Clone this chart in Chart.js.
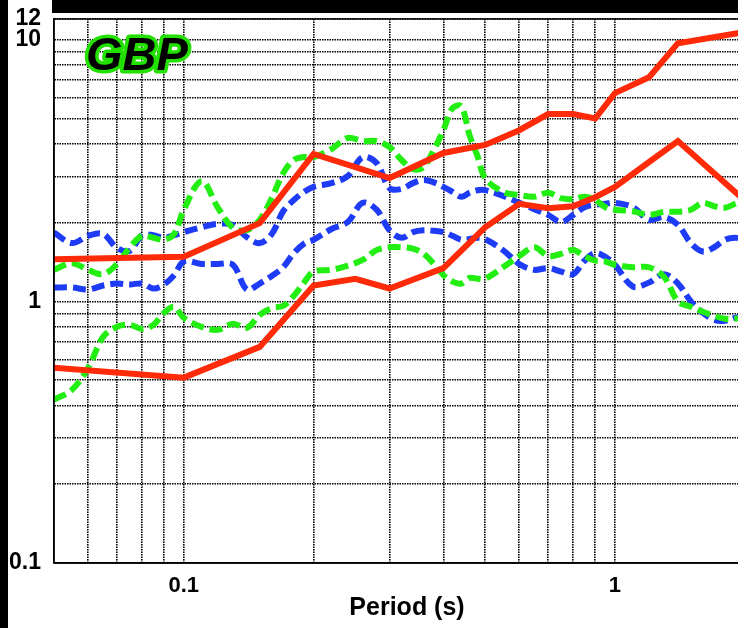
<!DOCTYPE html>
<html>
<head>
<meta charset="utf-8">
<script src="https://cdn.jsdelivr.net/npm/chart.js"></script>
<style>
  html, body { margin: 0; padding: 0; background: #000; overflow: hidden; }
  #chart-container { position: absolute; left: 8px; top: 0; width: 752px; height: 628px; background: #fff; }
  #top-band { position: absolute; left: 52px; top: 0; width: 720px; height: 13px; background: #000; z-index: 2; }
</style>
</head>
<body>
<div id="chart-container"><canvas id="myChart" width="752" height="628"></canvas></div>
<div id="top-band"></div>
<script>
// periods (s) sampled for the dashed curves
const periods = [0.05, 0.055, 0.06, 0.065, 0.07, 0.075, 0.08, 0.085, 0.09, 0.095,
  0.1, 0.11, 0.12, 0.13, 0.14, 0.15, 0.16, 0.17, 0.18, 0.19,
  0.2, 0.22, 0.24, 0.26, 0.28, 0.3, 0.32, 0.34, 0.36, 0.38,
  0.4, 0.42, 0.44, 0.46, 0.48,
  0.5, 0.55, 0.6, 0.65, 0.7, 0.75, 0.8, 0.85, 0.9, 0.95,
  1.0, 1.1, 1.2, 1.3, 1.4, 1.5, 1.6, 1.7, 1.8, 1.9, 2.0];

const blueUpper = [1.83, 1.67, 1.78, 1.81, 1.60, 1.56, 1.79, 1.79, 1.75, 1.79,
  1.84, 1.92, 1.98, 1.96, 1.76, 1.67, 1.81, 2.21, 2.44, 2.62,
  2.74, 2.83, 3.01, 3.56, 3.38, 2.71, 2.69, 2.83, 2.91, 2.85,
  2.74, 2.62, 2.51, 2.60, 2.66,
  2.66, 2.53, 2.38, 2.25, 2.14, 2.01, 2.14, 2.29, 2.34, 2.36,
  2.38, 2.29, 2.05, 2.10, 1.96, 1.67, 1.55, 1.61, 1.72, 1.75, 1.72];

const blueLower = [1.13, 1.13, 1.11, 1.15, 1.17, 1.16, 1.17, 1.12, 1.16, 1.26,
  1.42, 1.39, 1.39, 1.38, 1.11, 1.17, 1.25, 1.35, 1.53, 1.66,
  1.72, 1.89, 2.01, 2.38, 2.24, 1.87, 1.75, 1.84, 1.87, 1.86,
  1.84, 1.78, 1.72, 1.73, 1.75,
  1.73, 1.57, 1.39, 1.32, 1.34, 1.30, 1.27, 1.43, 1.53, 1.48,
  1.38, 1.14, 1.18, 1.27, 1.17, 1.00, 0.904, 0.850, 0.843, 0.865, 0.880];

const greenUpper = [1.32, 1.40, 1.32, 1.27, 1.39, 1.61, 1.78, 1.75, 1.72, 1.81,
  2.24, 2.88, 2.28, 1.91, 1.87, 2.05, 2.48, 3.09, 3.47, 3.56,
  3.56, 3.82, 4.21, 4.10, 4.10, 3.89, 3.47, 3.20, 3.26, 3.79,
  4.51, 5.48, 5.57, 4.32, 3.59,
  2.96, 2.62, 2.55, 2.51, 2.60, 2.48, 2.46, 2.51, 2.44, 2.29,
  2.24, 2.21, 2.14, 2.20, 2.20, 2.24, 2.38, 2.31, 2.28, 2.36, 2.44];

const greenLower = [0.421, 0.459, 0.557, 0.732, 0.799, 0.813, 0.785, 0.813, 0.904, 0.953,
  0.865, 0.799, 0.778, 0.821, 0.792, 0.888, 0.944, 0.961, 1.05, 1.18,
  1.30, 1.32, 1.37, 1.44, 1.57, 1.61, 1.61, 1.59, 1.52, 1.39,
  1.26, 1.19, 1.17, 1.23, 1.22,
  1.22, 1.35, 1.49, 1.61, 1.49, 1.52, 1.57, 1.49, 1.43, 1.42,
  1.38, 1.35, 1.35, 1.24, 1.00, 0.953, 0.912, 0.880, 0.858, 0.858, 0.873];

// the two solid red curves use coarser periods
const redPeriods = [0.05, 0.1, 0.15, 0.2, 0.25, 0.3, 0.4, 0.5, 0.6, 0.7, 0.8, 0.9, 1.0, 1.2, 1.4, 2.0];
const redUpper = [1.45, 1.48, 1.99, 3.66, 3.26, 2.96, 3.69, 3.96, 4.51, 5.2, 5.2, 5.0, 6.25, 7.19, 9.7, 10.7];
const redLower = [0.557, 0.511, 0.67, 1.15, 1.22, 1.12, 1.34, 1.92, 2.36, 2.27, 2.31, 2.5, 2.74, 3.41, 4.1, 2.43];

// axis ticks
const xTicks = [0.06, 0.07, 0.08, 0.09, 0.1, 0.2, 0.3, 0.4, 0.5, 0.6, 0.7, 0.8, 0.9, 1];
const xLabels = [0.1, 1];
const yTicks = [0.1, 0.2, 0.3, 0.4, 0.5, 0.6, 0.7, 0.8, 0.9, 1, 2, 3, 4, 5, 6, 7, 8, 9, 10, 12];
const yLabels = [0.1, 1, 10, 12];

const FONT = "'Liberation Sans', Arial, sans-serif";

function toPoints(xs, ys) {
  return xs.map((x, i) => ({ x: x, y: ys[i] }));
}

function solid(data, color) {
  return { data: data, borderColor: color, borderWidth: 6, pointRadius: 0, tension: 0, fill: false };
}

function dashed(data, color) {
  return {
    data: data,
    borderColor: color,
    borderWidth: 6,
    borderDash: [13, 6],
    pointRadius: 0,
    tension: 0.35,
    fill: false,
  };
}

const frameAndLabel = {
  id: "frameAndLabel",
  afterDraw(chart) {
    const { ctx, chartArea } = chart;
    ctx.save();
    ctx.strokeStyle = "#000";
    ctx.lineWidth = 1.5;
    ctx.beginPath();
    ctx.moveTo(chartArea.left, chartArea.bottom);
    ctx.lineTo(chartArea.left, chartArea.top);
    ctx.lineTo(chartArea.right, chartArea.top);
    ctx.moveTo(chartArea.left, chartArea.bottom);
    ctx.lineTo(chartArea.right, chartArea.bottom);
    ctx.stroke();

    ctx.font = "italic bold 47px " + FONT;
    ctx.textBaseline = "alphabetic";
    ctx.lineJoin = "round";
    ctx.lineWidth = 7;
    ctx.strokeStyle = "#22e000";
    ctx.strokeText("GBP", 78, 70);
    ctx.fillStyle = "#000";
    ctx.fillText("GBP", 78, 70);
    ctx.restore();
  },
};

const ctx = document.getElementById("myChart").getContext("2d");
new Chart(ctx, {
  type: "line",
  data: {
    datasets: [
      solid(toPoints(redPeriods, redUpper), "#ff2a08"),
      solid(toPoints(redPeriods, redLower), "#ff2a08"),
      dashed(toPoints(periods, greenUpper), "#22ee11"),
      dashed(toPoints(periods, greenLower), "#22ee11"),
      dashed(toPoints(periods, blueUpper), "#1e3cf5"),
      dashed(toPoints(periods, blueLower), "#1e3cf5"),
    ],
  },
  options: {
    responsive: false,
    animation: false,
    layout: { padding: { top: 19, right: 0, left: 0, bottom: 0 } },
    plugins: {
      legend: { display: false },
      tooltip: { enabled: false },
    },
    scales: {
      x: {
        type: "logarithmic",
        min: 0.05,
        max: 2.17,
        afterBuildTicks: (scale) => {
          scale.ticks = xTicks.map((v) => ({ value: v }));
        },
        afterFit: (scale) => {
          scale.height = 65;
          scale.paddingLeft = 0;
          scale.paddingRight = 0;
        },
        grid: { color: "#000", lineWidth: 1.6, drawTicks: false },
        border: { display: true, color: "#000", width: 1.5, dash: [1.5, 1] },
        ticks: {
          autoSkip: false,
          maxRotation: 0,
          padding: 10,
          color: "#000",
          font: { family: FONT, size: 22, weight: "bold" },
          callback: (value) => (xLabels.includes(value) ? String(value) : ""),
        },
        title: {
          display: true,
          text: "Period (s)",
          color: "#000",
          font: { family: FONT, size: 25, weight: "bold" },
          padding: { top: 0, bottom: 5 },
        },
      },
      y: {
        type: "logarithmic",
        min: 0.1,
        max: 12,
        afterBuildTicks: (scale) => {
          scale.ticks = yTicks.map((v) => ({ value: v }));
        },
        afterFit: (scale) => {
          scale.width = 46;
          scale.paddingTop = 0;
          scale.paddingBottom = 0;
        },
        grid: { color: "#000", lineWidth: 1.6, drawTicks: false },
        border: { display: true, color: "#000", width: 1.5, dash: [1.5, 1] },
        ticks: {
          autoSkip: false,
          padding: 13,
          color: "#000",
          font: { family: FONT, size: 23, weight: "bold" },
          callback: (value) => (yLabels.includes(value) ? String(value) : ""),
        },
      },
    },
  },
  plugins: [frameAndLabel],
});
</script>
</body>
</html>
